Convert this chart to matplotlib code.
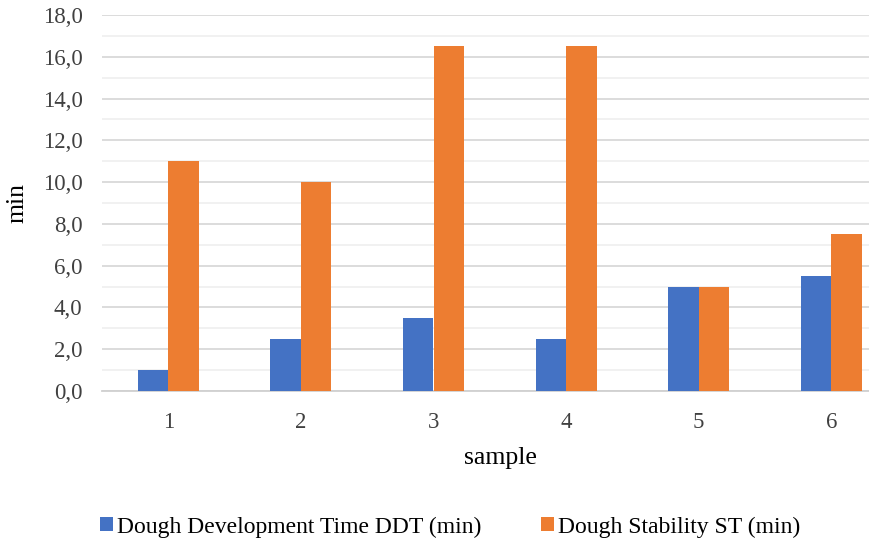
import matplotlib
matplotlib.use("Agg")
import matplotlib.pyplot as plt
from matplotlib.ticker import MultipleLocator, FuncFormatter
from matplotlib.patches import Patch
import numpy as np

samples = ["1", "2", "3", "4", "5", "6"]
ddt = [1.0, 2.5, 3.5, 2.5, 5.0, 5.5]
st = [11.0, 10.0, 16.5, 16.5, 5.0, 7.5]
series_names = ["Dough Development Time DDT (min)", "Dough Stability ST (min)"]
colors = ["#4472C4", "#ED7D31"]

plt.rcParams['font.family'] = ['Liberation Serif', 'DejaVu Serif']

W, H = 870, 545
fig = plt.figure(figsize=(W / 100, H / 100), dpi=100)
left, right, bottom, top = 102, 870, 391, 15
ax = fig.add_axes([left / W, (H - bottom) / H, (right - left) / W, (bottom - top) / H])

x = np.arange(len(samples))
bw = 0.23
ax.bar(x - bw / 2, ddt, width=bw, color=colors[0], zorder=3)
ax.bar(x + bw / 2, st, width=bw, color=colors[1], zorder=3)

ax.set_xlim(-0.5, -0.5 + (right - left) / 132.6)
ax.set_ylim(0, 18)
ax.yaxis.set_major_locator(MultipleLocator(2))
ax.yaxis.set_minor_locator(MultipleLocator(1))
ax.yaxis.set_major_formatter(FuncFormatter(lambda v, p: f"{v:.1f}".replace(".", ",")))
ax.grid(axis='y', which='major', color='#D9D9D9', linewidth=1.3, zorder=0)
ax.grid(axis='y', which='minor', color='#F0F0F0', linewidth=1.3, zorder=0)
ax.set_xticks(x)
ax.set_xticklabels(samples)
for s in ['top', 'right', 'left']:
    ax.spines[s].set_visible(False)
ax.spines['bottom'].set_color('#D0D0D0')
ax.spines['bottom'].set_linewidth(1.3)
ax.tick_params(axis='both', which='both', length=0, labelsize=16.5, colors='#404040')
ax.tick_params(axis='y', pad=14)
ax.tick_params(axis='x', pad=15)
ax.set_xlabel("sample", fontsize=18.5, color='#000000')
ax.xaxis.set_label_coords((500 - left) / (right - left), -(458 - bottom) / (bottom - top), transform=ax.transAxes)
ax.xaxis.label.set_va('center')
ax.set_ylabel("min", fontsize=18.5, color='#000000')
ax.yaxis.set_label_coords(-(left - 17) / (right - left), 0.5, transform=ax.transAxes)
ax.yaxis.label.set_va('center')

handles = [Patch(facecolor=c, edgecolor='none') for c in colors]
fig.legend(handles, series_names, loc='center', bbox_to_anchor=(450 / W, (H - 527) / H),
           ncol=2, frameon=False, fontsize=17, handlelength=0.55, handleheight=0.55,
           handletextpad=0.17, columnspacing=2.5, borderpad=0)

fig.savefig("out.png", dpi=100)
